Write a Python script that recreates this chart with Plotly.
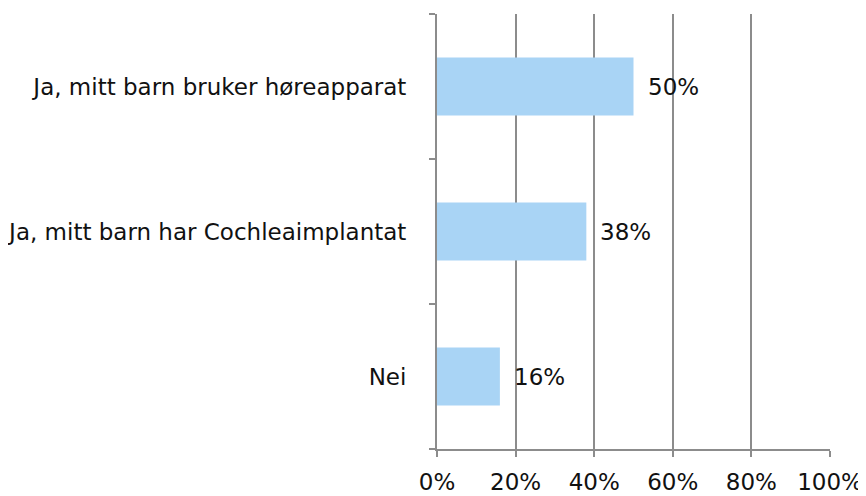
import plotly.graph_objects as go

categories = ["Ja, mitt barn bruker høreapparat", "Ja, mitt barn har Cochleaimplantat", "Nei"]
values = [50, 38, 16]
labels = ["50%", "38%", "16%"]
tick_vals = [0, 20, 40, 60, 80, 100]
tick_text = ["0%", "20%", "40%", "60%", "80%", "100%"]

FONT = "DejaVu Sans"
GRID = "#8c8c8c"
FS = 23

fig = go.Figure()
fig.add_trace(go.Bar(
    y=categories, x=values, orientation="h",
    marker=dict(color="#A9D4F5", line=dict(width=0)),
    width=0.4,
    hoverinfo="skip",
))
for c, v, t in zip(categories, values, labels):
    fig.add_annotation(x=v, y=c, text=t, showarrow=False, xanchor="left",
                       xshift=12, font=dict(family=FONT, size=FS, color="#111111"))

fig.update_layout(
    width=866, height=496,
    margin=dict(l=429, r=44, t=6, b=55),
    paper_bgcolor="white", plot_bgcolor="white",
    showlegend=False,
    font=dict(family=FONT, size=FS, color="#111111"),
    xaxis=dict(range=[0, 100], tickvals=tick_vals, ticktext=tick_text,
               showgrid=True, gridcolor=GRID, gridwidth=2,
               ticks="outside", ticklen=6, tickcolor=GRID, tickwidth=2,
               showline=True, linecolor=GRID, linewidth=2,
               zeroline=False, ticklabelstandoff=5, automargin=False),
    yaxis=dict(categoryorder="array", categoryarray=categories[::-1],
               type="category", tickson="boundaries",
               ticks="outside", ticklen=6, tickcolor=GRID, tickwidth=2,
               showline=True, linecolor=GRID, linewidth=2,
               showgrid=False, ticklabelstandoff=24, automargin=False),
)

fig.write_html("out.html")
